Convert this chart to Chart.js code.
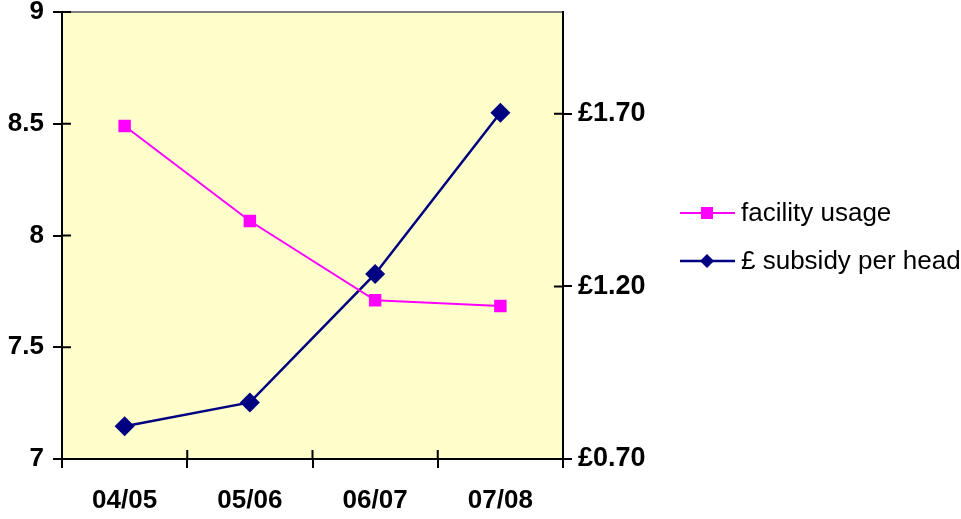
<!DOCTYPE html>
<html>
<head>
<meta charset="utf-8">
<script src="https://cdn.jsdelivr.net/npm/chart.js@4.4.1/dist/chart.umd.min.js"></script>
<style>
  body { margin: 0; background: #fff; }
  #wrap { width: 961px; height: 519px; }
</style>
</head>
<body>
<div id="wrap"><canvas id="myChart" width="961" height="519"></canvas></div>
<script>
// data
const years = ['04/05', '05/06', '06/07', '07/08'];
const facilityUsage = [8.49, 8.065, 7.71, 7.685];
const subsidyPerHead = [0.795, 0.864, 1.236, 1.703];
const leftTicks = [7, 7.5, 8, 8.5, 9];
const rightTicks = [0.7, 1.2, 1.7];

const FONT = 'Liberation Sans, Arial, sans-serif';

// yellow plot background + grey top border
const plotBg = {
  id: 'plotBg',
  beforeDraw(chart) {
    const { ctx, chartArea: a } = chart;
    ctx.save();
    ctx.fillStyle = '#FFFFCC';
    ctx.fillRect(a.left, a.top, a.right - a.left, a.bottom - a.top);
    ctx.strokeStyle = '#808080';
    ctx.lineWidth = 2;
    ctx.beginPath();
    ctx.moveTo(a.left, a.top);
    ctx.lineTo(a.right, a.top);
    ctx.stroke();
    ctx.restore();
  },
};

// tick marks that cross into the plot area
const innerTicks = {
  id: 'innerTicks',
  afterDatasetsDraw(chart) {
    const { ctx, chartArea: a, scales } = chart;
    const len = 9;
    ctx.save();
    ctx.strokeStyle = '#000';
    ctx.lineWidth = 2;
    ctx.beginPath();
    scales.y.ticks.forEach((t) => {
      const y = scales.y.getPixelForValue(t.value);
      ctx.moveTo(a.left, y);
      ctx.lineTo(a.left + len, y);
    });
    scales.y1.ticks.forEach((t) => {
      const y = scales.y1.getPixelForValue(t.value);
      ctx.moveTo(a.right, y);
      ctx.lineTo(a.right - len, y);
    });
    const step = (a.right - a.left) / years.length;
    for (let i = 0; i <= years.length; i++) {
      const x = scales.x.getPixelForValue(i) - step / 2;
      ctx.moveTo(x, a.bottom);
      ctx.lineTo(x, a.bottom - len);
    }
    ctx.stroke();
    ctx.restore();
  },
};

// legend on the right
const sideLegend = {
  id: 'sideLegend',
  afterDraw(chart) {
    const { ctx } = chart;
    const rows = [213, 261];
    ctx.save();
    chart.data.datasets.forEach((ds, i) => {
      const y = rows[i];
      ctx.strokeStyle = ds.borderColor;
      ctx.lineWidth = ds.borderWidth;
      ctx.beginPath();
      ctx.moveTo(680, y);
      ctx.lineTo(735, y);
      ctx.stroke();
      ctx.fillStyle = ds.pointBackgroundColor;
      ctx.beginPath();
      if (ds.pointStyle === 'rect') {
        ctx.rect(707 - 6, y - 6, 12, 12);
      } else {
        ctx.moveTo(707, y - 7);
        ctx.lineTo(714, y);
        ctx.lineTo(707, y + 7);
        ctx.lineTo(700, y);
        ctx.closePath();
      }
      ctx.fill();
      ctx.fillStyle = '#000';
      ctx.font = '26px ' + FONT;
      ctx.textBaseline = 'middle';
      ctx.fillText(ds.label, 741, y + 1);
    });
    ctx.restore();
  },
};

const noPad = (s) => {
  s.paddingTop = 0;
  s.paddingBottom = 0;
  s.paddingLeft = 0;
  s.paddingRight = 0;
};

const config = {
  type: 'line',
  data: {
    labels: years,
    datasets: [
      {
        label: 'facility usage',
        data: facilityUsage,
        yAxisID: 'y',
        borderColor: '#FF00FF',
        backgroundColor: '#FF00FF',
        pointBackgroundColor: '#FF00FF',
        pointBorderColor: '#FF00FF',
        borderWidth: 2,
        pointStyle: 'rect',
        pointRadius: 8.8,
        pointBorderWidth: 0,
        tension: 0,
      },
      {
        label: '£ subsidy per head',
        data: subsidyPerHead,
        yAxisID: 'y1',
        borderColor: '#000080',
        backgroundColor: '#000080',
        pointBackgroundColor: '#000080',
        pointBorderColor: '#000080',
        borderWidth: 2.5,
        pointStyle: 'rectRot',
        pointRadius: 10,
        pointBorderWidth: 0,
        tension: 0,
      },
    ],
  },
  options: {
    responsive: false,
    animation: false,
    layout: { padding: { top: 12, left: 0, right: 0, bottom: 0 } },
    plugins: {
      legend: { display: false },
      tooltip: { enabled: false },
    },
    scales: {
      x: {
        offset: true,
        grid: { offset: true, drawOnChartArea: false, tickLength: 9, color: '#000', lineWidth: 2 },
        border: { color: '#000', width: 2 },
        ticks: { color: '#000', font: { family: FONT, size: 26, weight: 'bold' }, padding: 17, maxRotation: 0 },
        afterFit: (s) => { s.height = 60; noPad(s); },
      },
      y: {
        position: 'left',
        min: 7,
        max: 9,
        afterBuildTicks: (s) => { s.ticks = leftTicks.map((v) => ({ value: v })); },
        grid: { drawOnChartArea: false, tickLength: 9, color: '#000', lineWidth: 2 },
        border: { color: '#000', width: 2 },
        ticks: { color: '#000', font: { family: FONT, size: 26, weight: 'bold' }, padding: 9,
          callback: (v) => String(v) },
        afterFit: (s) => { s.width = 62; noPad(s); },
      },
      y1: {
        position: 'right',
        min: 0.7,
        max: 1.995,
        afterBuildTicks: (s) => { s.ticks = rightTicks.map((v) => ({ value: v })); },
        grid: { drawOnChartArea: false, tickLength: 9, color: '#000', lineWidth: 2 },
        border: { color: '#000', width: 2 },
        ticks: { color: '#000', font: { family: FONT, size: 27, weight: 'bold' }, padding: 6,
          callback: (v) => '£' + Number(v).toFixed(2) },
        afterFit: (s) => { s.width = 961 - 563; noPad(s); },
      },
    },
  },
  plugins: [plotBg, innerTicks, sideLegend],
};

const myChart = new Chart(document.getElementById('myChart'), config);
</script>
</body>
</html>
